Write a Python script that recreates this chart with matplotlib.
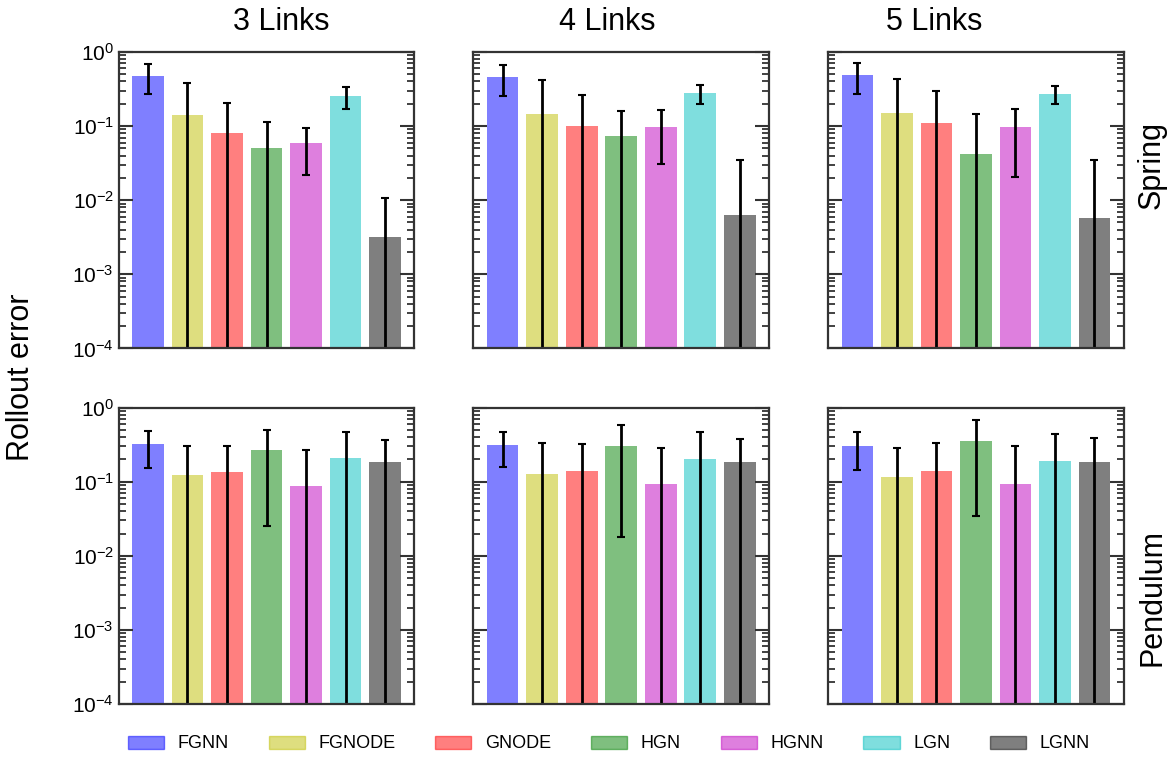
import matplotlib
matplotlib.use("Agg")
import matplotlib.pyplot as plt
from matplotlib.patches import Patch
import numpy as np

plt.rcParams['font.family'] = ['Liberation Sans', 'DejaVu Sans']
plt.rcParams['mathtext.default'] = 'regular'

methods = ['FGNN', 'FGNODE', 'GNODE', 'HGN', 'HGNN', 'LGN', 'LGNN']
colors = ['b', 'y', 'r', 'g', 'm', 'c', 'k']
links = ['3 Links', '4 Links', '5 Links']
systems = ['Spring', 'Pendulum']

# rollout error (mean) and std, one list per number of links
spring_mean = [
    [0.48, 0.14, 0.080, 0.050, 0.0586, 0.252, 0.0032],
    [0.458, 0.145, 0.0995, 0.0728, 0.0964, 0.278, 0.0064],
    [0.493, 0.151, 0.109, 0.0415, 0.0964, 0.27, 0.0058],
]
spring_std = [
    [0.21, 0.245, 0.127, 0.065, 0.037, 0.08, 0.0075],
    [0.2, 0.268, 0.16, 0.089, 0.066, 0.077, 0.0288],
    [0.22, 0.275, 0.184, 0.103, 0.076, 0.074, 0.0294],
]
pendulum_mean = [
    [0.32, 0.122, 0.134, 0.265, 0.0886, 0.207, 0.183],
    [0.313, 0.127, 0.139, 0.303, 0.093, 0.202, 0.1845],
    [0.303, 0.1156, 0.139, 0.355, 0.093, 0.19, 0.1845],
]
pendulum_std = [
    [0.165, 0.185, 0.173, 0.24, 0.18, 0.267, 0.187],
    [0.155, 0.203, 0.18, 0.285, 0.189, 0.262, 0.193],
    [0.16, 0.17, 0.19, 0.32, 0.207, 0.246, 0.2],
]

means = [spring_mean, pendulum_mean]
stds = [spring_std, pendulum_std]

fig, axes = plt.subplots(2, 3, figsize=(11.72, 7.69), dpi=100, sharey=True)
fig.subplots_adjust(left=0.1013, right=0.9588, top=0.9324, bottom=0.0845,
                    wspace=0.2, hspace=0.2)

x = np.arange(len(methods))
for r in range(2):
    for c in range(3):
        ax = axes[r, c]
        ax.bar(x, means[r][c], width=0.8, color=colors, alpha=0.5)
        ax.errorbar(x, means[r][c], yerr=stds[r][c], fmt='none', ecolor='k',
                    elinewidth=2, capsize=3, capthick=1.5)
        ax.set_yscale('log')
        ax.set_ylim(1e-4, 1)
        ax.set_xticks([])
        ax.tick_params(axis='y', which='both', direction='in', left=True,
                       right=True, colors='#333333', labelcolor='black',
                       labelsize=15)
        ax.tick_params(axis='y', which='major', length=10, width=1.5)
        ax.tick_params(axis='y', which='minor', length=5, width=1.3)
        for s in ax.spines.values():
            s.set_color('#333333')
            s.set_linewidth(1.6)
        if c > 0:
            ax.tick_params(axis='y', which='both', labelleft=False)

title_x = [0.24, 0.518, 0.797]
for i, t in enumerate(links):
    fig.text(title_x[i], 0.961, t, ha='center', va='baseline', fontsize=22)

fig.text(0.018, 0.51, 'Rollout error', rotation=90, ha='center', va='center',
         fontsize=22)
fig.text(0.983, 1 - 165 / 769, systems[0], rotation=90, ha='center',
         va='center', fontsize=22)
fig.text(0.983, 1 - 598 / 769, systems[1], rotation=90, ha='center',
         va='center', fontsize=22)

handles = [Patch(facecolor=col, edgecolor=col, alpha=0.5, lw=1)
           for col in colors]
fig.legend(handles, methods, loc='center', ncol=7, frameon=False,
           fontsize=13, columnspacing=2.2, handletextpad=0.76,
           bbox_to_anchor=(609 / 1172, 1 - 744 / 769))

fig.savefig('out.png', dpi=100)
